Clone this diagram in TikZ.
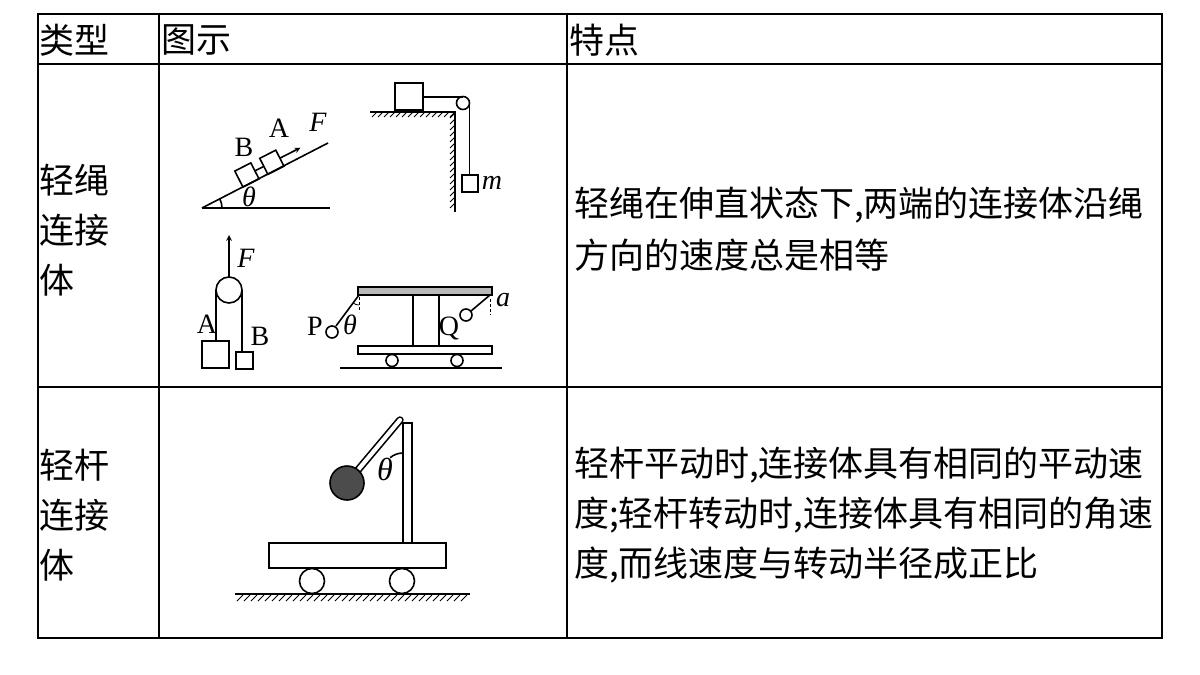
\documentclass[tikz,border=0pt]{standalone}
\usepackage{fontspec}
\newfontfamily\cjk{Noto Sans CJK SC}
\setmainfont{Liberation Serif}
\begin{document}
\begin{tikzpicture}[x=1pt,y=-1pt,
  cjkt/.style={anchor=west,inner sep=0,font=\cjk\fontsize{35}{40}\selectfont},
  lbl/.style={inner sep=0,font=\fontsize{28}{32}\selectfont},
  fig/.style={line width=1.6},
  grid/.style={line width=1.6}]
\useasboundingbox (0,0) rectangle (1200,675);
\fill[white] (0,0) rectangle (1200,675);
% table
\draw[grid] (38,14) rectangle (1162,638);
\draw[grid] (159,14) -- (159,638) (567,14) -- (567,638);
\draw[grid] (38,64) -- (1162,64) (38,387) -- (1162,387);
\node[cjkt] (h1) at (39,40) {类型};
\node[cjkt] (h2) at (161,40) {图示};
\node[cjkt] (h3) at (569,40) {特点};
\node[cjkt] (l1a) at (39,180) {轻绳};
\node[cjkt] (l1b) at (39,230) {连接};
\node[cjkt] (l1c) at (39,280) {体};
\node[cjkt] (r1a) at (574,205) {轻绳在伸直状态下,两端的连接体沿绳};
\node[cjkt] (r1b) at (574,255) {方向的速度总是相等};
\node[cjkt] (l2a) at (39,465) {轻杆};
\node[cjkt] (l2b) at (39,515) {连接};
\node[cjkt] (l2c) at (39,565) {体};
\node[cjkt] (r2a) at (574,465) {轻杆平动时,连接体具有相同的平动速};
\node[cjkt] (r2b) at (574,515) {度;轻杆转动时,连接体具有相同的角速};
\node[cjkt] (r2c) at (574,565) {度,而线速度与转动半径成正比};
% incline
\begin{scope}[fig]
\draw (202,208) -- (330,208);
\draw (202,208) -- (328,143);
\draw (222,208) arc[start angle=0,end angle=-27,radius=20];
\node[lbl] (th1) at (249,197) {\itshape θ};
\begin{scope}[shift={(251,183)},rotate=27]
\draw (-9,-18) rectangle (9,0);
\draw (9,-9) -- (19,-9);
\draw (19,-18) rectangle (37,0);
\draw[-stealth] (37,-9) -- (60,-9);
\end{scope}
\node[lbl] (lA) at (279,128) {A};
\node[lbl] (lB) at (244,147) {B};
\node[lbl] (lF) at (318,122) {\itshape F};
% wall pulley
\draw (370,112) -- (455,112) -- (455,212);
\foreach \x in {372,378,...,450} \draw[line width=0.9] (\x,117) -- (\x+5,112);
\foreach \y in {118,124,...,210} \draw[line width=0.9] (450,\y) -- (455,\y-5);
\draw (395,83) rectangle (423,110);
\draw (423,97) -- (463,97);
\draw (463,103) circle (6.5);
\draw (469.5,103) -- (469.5,175);
\draw (462,175) rectangle (478,192);
\node[lbl] (lm) at (492,183) {\itshape m};
% pulley system
\draw[-stealth] (229,277) -- (229,235);
\node[lbl] (lF2) at (246,258) {\itshape F};
\draw (229,290) circle (13);
\draw (216,290) -- (216,341);
\draw (242,290) -- (242,352);
\draw (202,341) rectangle (229,368);
\draw (236,352) rectangle (253,369);
\node[lbl] (lA2) at (207,324) {A};
\node[lbl] (lB2) at (260,336) {B};
% cart P Q
\draw[fill=gray!55] (358,287) rectangle (492,295);
\draw (413,295) -- (413,346) (439,295) -- (439,346);
\draw (358,346) rectangle (492,354);
\draw (392,360.5) circle (6) (457,360.5) circle (6);
\draw (340,368) -- (502,368);
\draw (359,295) -- (336,326);
\draw (332,332) circle (6);
\draw[densely dashed,line width=0.8] (359,297) -- (359,312);
\draw[line width=0.8] (359,305) arc[start angle=90,end angle=126,radius=10];
\node[lbl] (lP) at (315,326) {P};
\node[lbl] (lth2) at (350,325) {\itshape θ};
\draw (490,295) -- (471,311);
\draw (466,315) circle (6);
\draw[densely dashed,line width=0.8] (490,299) -- (490,315);
\node[lbl] (lQ) at (449,328) {Q};
\node[lbl] (la) at (503,300) {\itshape a};
% lever cart
\draw (235,594) -- (470,594);
\foreach \x in {237,244,...,465} \draw[line width=0.9] (\x,601) -- (\x+6,595);
\draw (312,581) circle (12.5) (402,581) circle (12.5);
\draw (269,543) rectangle (446,568);
\draw (403,423) rectangle (412,543);
\draw[line width=7.5,line cap=round] (400,420) -- (347,483);
\draw[line width=4.2,white,line cap=round] (400,420) -- (347,483);
\draw[fill=black!70] (347,483) circle (17);
\draw (403,453) arc[start angle=270,end angle=230,radius=20];
\node[lbl,font=\fontsize{32}{36}\selectfont] (lth3) at (385,469) {\itshape θ};
\end{scope}
\end{tikzpicture}
\end{document}
